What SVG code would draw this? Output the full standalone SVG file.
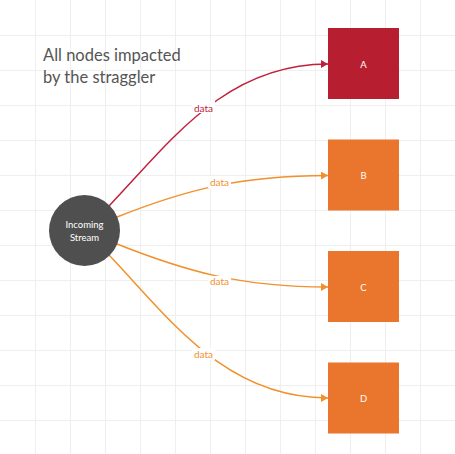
<svg xmlns="http://www.w3.org/2000/svg" width="455" height="454" viewBox="0 0 455 454">
<defs>
<style>
.grid{stroke:#efefef;stroke-width:1}
.red{stroke:#c0203a;fill:none;stroke-width:1.5}
.org{stroke:#f2902c;fill:none;stroke-width:1.5}
.lbl{font-family:Lato,"Liberation Sans",sans-serif;font-size:10px;text-anchor:middle}
.node{font-family:Lato,"Liberation Sans",sans-serif;font-size:9.5px;fill:#ffffff;text-anchor:middle}
</style>
<marker id="ar" viewBox="0 0 10 10" refX="10" refY="5" markerWidth="7" markerHeight="8" markerUnits="userSpaceOnUse" orient="auto" preserveAspectRatio="none"><path d="M0,0 L10,5 L0,10 Z" fill="#c0203a"/></marker>
<marker id="ao" viewBox="0 0 10 10" refX="10" refY="5" markerWidth="7" markerHeight="8" markerUnits="userSpaceOnUse" orient="auto" preserveAspectRatio="none"><path d="M0,0 L10,5 L0,10 Z" fill="#f2902c"/></marker>
</defs>
<rect width="455" height="454" fill="#ffffff"/>
<g id="grid" class="grid">
<path d="M35.5,0V454M70.5,0V454M105.5,0V454M140.5,0V454M175.5,0V454M210.5,0V454M245.5,0V454M280.5,0V454M315.5,0V454M350.5,0V454M385.5,0V454M420.5,0V454"/>
<path d="M0,35.5H455M0,70.5H455M0,105.5H455M0,140.5H455M0,175.5H455M0,210.5H455M0,245.5H455M0,280.5H455M0,315.5H455M0,350.5H455M0,385.5H455M0,420.5H455"/>
</g>
<g id="title"><text x="43" y="61" font-family="Lato,'Liberation Sans',sans-serif" font-size="16.5" fill="#555555">All nodes impacted</text><text x="43" y="83" font-family="Lato,'Liberation Sans',sans-serif" font-size="16.5" fill="#555555">by the straggler</text></g>
<g id="connectors">
<path class="red" d="M109,206 C170,142 225,64 328,64" marker-end="url(#ar)"/>
<path class="org" d="M117,217 C185,190 240,175.5 328,175.5" marker-end="url(#ao)"/>
<path class="org" d="M117,244 C185,271 240,287 328,287" marker-end="url(#ao)"/>
<path class="org" d="M109,255 C170,319 225,398 328,398" marker-end="url(#ao)"/>
<g class="lbl">
<rect x="192" y="101" width="23" height="12" fill="#ffffff"/><text x="203.5" y="111.5" fill="#c0203a">data</text>
<rect x="208" y="176" width="23" height="12" fill="#ffffff"/><text x="219.5" y="186" fill="#f2902c">data</text>
<rect x="208" y="276" width="23" height="12" fill="#ffffff"/><text x="219.5" y="285" fill="#f2902c">data</text>
<rect x="192" y="348" width="23" height="12" fill="#ffffff"/><text x="203.5" y="358" fill="#f2902c">data</text>
</g>
</g>
<g id="stream"><circle cx="84.5" cy="230.5" r="35.5" fill="#4f4f4f"/><text class="node" x="84.5" y="227.5">Incoming</text><text class="node" x="84.5" y="241">Stream</text></g>
<g id="A"><rect x="328" y="28" width="71" height="71" fill="#b71f31"/><text class="node" x="363.5" y="67.5">A</text></g>
<g id="B"><rect x="328" y="139.5" width="71" height="71" fill="#ea752d"/><text class="node" x="363.5" y="179">B</text></g>
<g id="C"><rect x="328" y="251" width="71" height="71" fill="#ea752d"/><text class="node" x="363.5" y="290.5">C</text></g>
<g id="D"><rect x="328" y="362.5" width="71" height="71" fill="#ea752d"/><text class="node" x="363.5" y="402">D</text></g>
</svg>
